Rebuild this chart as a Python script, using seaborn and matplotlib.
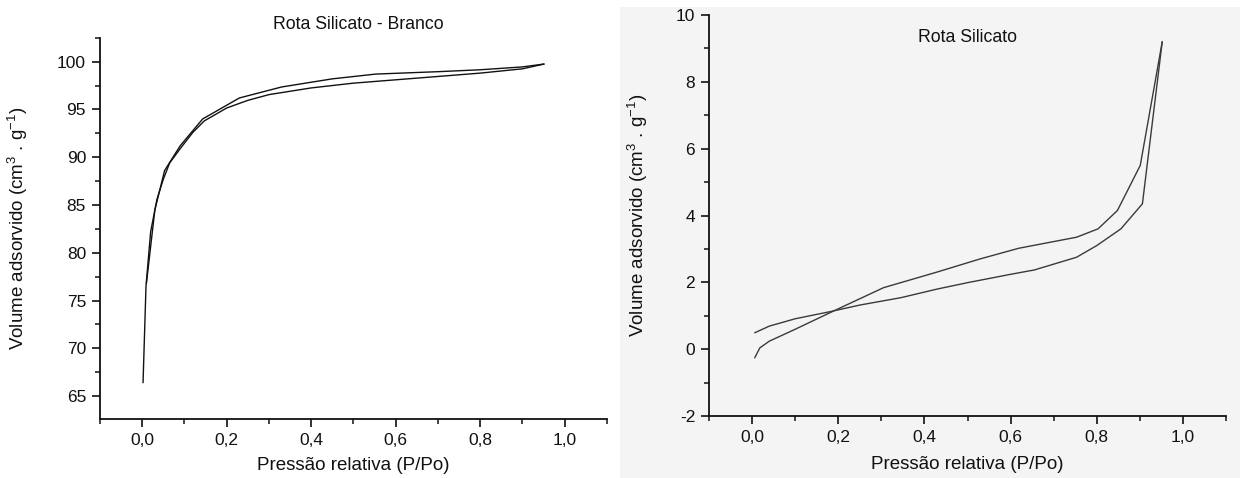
import matplotlib
matplotlib.use("Agg")
import matplotlib.pyplot as plt
from matplotlib.ticker import MultipleLocator, FixedLocator, FixedFormatter
from matplotlib.patches import Rectangle
import seaborn as sns
import pandas as pd

# Isotherm data: relative pressure (P/Po) and adsorbed volume (cm3/g)
branco_ads_p = [0.002, 0.009, 0.02, 0.035, 0.05, 0.065, 0.09, 0.12, 0.147, 0.2, 0.25,
                0.3, 0.4, 0.5, 0.6, 0.7, 0.8, 0.9, 0.951]
branco_ads_v = [66.4, 76.5, 82.2, 85.6, 87.7, 89.4, 90.9, 92.6, 93.8, 95.15, 95.95,
                96.55, 97.25, 97.75, 98.1, 98.45, 98.8, 99.25, 99.75]
branco_des_p = [0.951, 0.9, 0.8, 0.7, 0.553, 0.45, 0.33, 0.23, 0.143, 0.09, 0.053,
                0.03, 0.01]
branco_des_v = [99.75, 99.45, 99.15, 98.95, 98.7, 98.2, 97.35, 96.2, 94.0, 91.2, 88.6,
                84.5, 76.8]

silicato_ads_p = [0.006, 0.04, 0.1, 0.18, 0.25, 0.345, 0.43, 0.5, 0.6, 0.655, 0.753,
                  0.8, 0.856, 0.906, 0.952]
silicato_ads_v = [0.49, 0.69, 0.91, 1.12, 1.32, 1.54, 1.8, 1.99, 2.24, 2.37, 2.75,
                  3.1, 3.6, 4.35, 9.2]
silicato_des_p = [0.952, 0.901, 0.848, 0.803, 0.753, 0.619, 0.529, 0.43, 0.305, 0.197,
                  0.099, 0.04, 0.018, 0.006]
silicato_des_v = [9.2, 5.5, 4.15, 3.6, 3.35, 3.02, 2.7, 2.31, 1.84, 1.19, 0.59, 0.24,
                  0.04, -0.26]

x_ticks = [0.0, 0.2, 0.4, 0.6, 0.8, 1.0]
x_tick_labels = ["0,0", "0,2", "0,4", "0,6", "0,8", "1,0"]
branco_y_ticks = [65, 70, 75, 80, 85, 90, 95, 100]
silicato_y_ticks = [-2, 0, 2, 4, 6, 8, 10]

sns.set_theme(style="ticks")
plt.rcParams["font.family"] = ["Liberation Sans", "DejaVu Sans"]
plt.rcParams["mathtext.fontset"] = "custom"
plt.rcParams["mathtext.rm"] = "Liberation Sans"
plt.rcParams["mathtext.it"] = "Liberation Sans"
plt.rcParams["axes.unicode_minus"] = False

fig = plt.figure(figsize=(12.4, 4.78), dpi=100)
fig.patch.set_facecolor("white")
# light grey backdrop behind the right-hand graph
fig.patches.append(Rectangle((0.5, 0.0), 0.5, 0.985, transform=fig.transFigure,
                             facecolor="#f4f4f4", edgecolor="none", zorder=-5))

ax1 = fig.add_axes([0.0806, 0.1234, 0.4089, 0.7976])
ax2 = fig.add_axes([0.5718, 0.1297, 0.4169, 0.8389])
ax1.set_facecolor("none")
ax2.set_facecolor("none")
ax1.set_zorder(2)
ax2.set_zorder(2)

ylabel = r"Volume adsorvido (cm$^{3}$ . g$^{-1}$)"


def draw_branch(ax, p, v, color):
    df = pd.DataFrame({"p": p, "v": v})
    sns.lineplot(data=df, x="p", y="v", ax=ax, sort=False, color=color,
                 linewidth=1.0, estimator=None)


draw_branch(ax1, branco_ads_p, branco_ads_v, "#111111")
draw_branch(ax1, branco_des_p, branco_des_v, "#111111")
draw_branch(ax2, silicato_ads_p, silicato_ads_v, "#3a3a3a")
draw_branch(ax2, silicato_des_p, silicato_des_v, "#3a3a3a")


def style_axes(ax, ylim, yticks, yminor, ylabel_x, xlabel_y):
    ax.set_xlim(-0.1, 1.1)
    ax.set_ylim(*ylim)
    for side in ("top", "right"):
        ax.spines[side].set_visible(False)
    for side in ("left", "bottom"):
        ax.spines[side].set_linewidth(1.3)
        ax.spines[side].set_color("#111111")
    ax.xaxis.set_major_locator(FixedLocator(x_ticks))
    ax.xaxis.set_major_formatter(FixedFormatter(x_tick_labels))
    ax.xaxis.set_minor_locator(MultipleLocator(0.1))
    ax.yaxis.set_major_locator(FixedLocator(yticks))
    ax.yaxis.set_minor_locator(MultipleLocator(yminor))
    ax.tick_params(which="major", direction="out", length=6, width=1.2,
                   labelsize=12.5, colors="#111111", pad=4)
    ax.tick_params(which="minor", direction="out", length=3.5, width=1.1,
                   colors="#111111")
    ax.set_xlabel("Pressão relativa (P/Po)", fontsize=13.5, color="#111111")
    ax.set_ylabel(ylabel, fontsize=13.5, color="#111111")
    ax.xaxis.set_label_coords(0.5, xlabel_y)
    ax.yaxis.set_label_coords(ylabel_x, 0.5)


style_axes(ax1, (62.6, 102.5), branco_y_ticks, 2.5, -0.162, -0.121)
style_axes(ax2, (-2, 10), silicato_y_ticks, 1, -0.137, -0.122)
ax1.yaxis.label.set_va("center")
ax2.yaxis.label.set_va("center")
ax1.xaxis.label.set_va("center")
ax2.xaxis.label.set_va("center")

ax1.set_title("Rota Silicato - Branco", fontsize=12.7, color="#111111", pad=6, x=0.51)
ax2.text(0.5, 0.965, "Rota Silicato", transform=ax2.transAxes, ha="center",
         va="top", fontsize=12.7, color="#111111")

fig.savefig("out.png", dpi=100)
